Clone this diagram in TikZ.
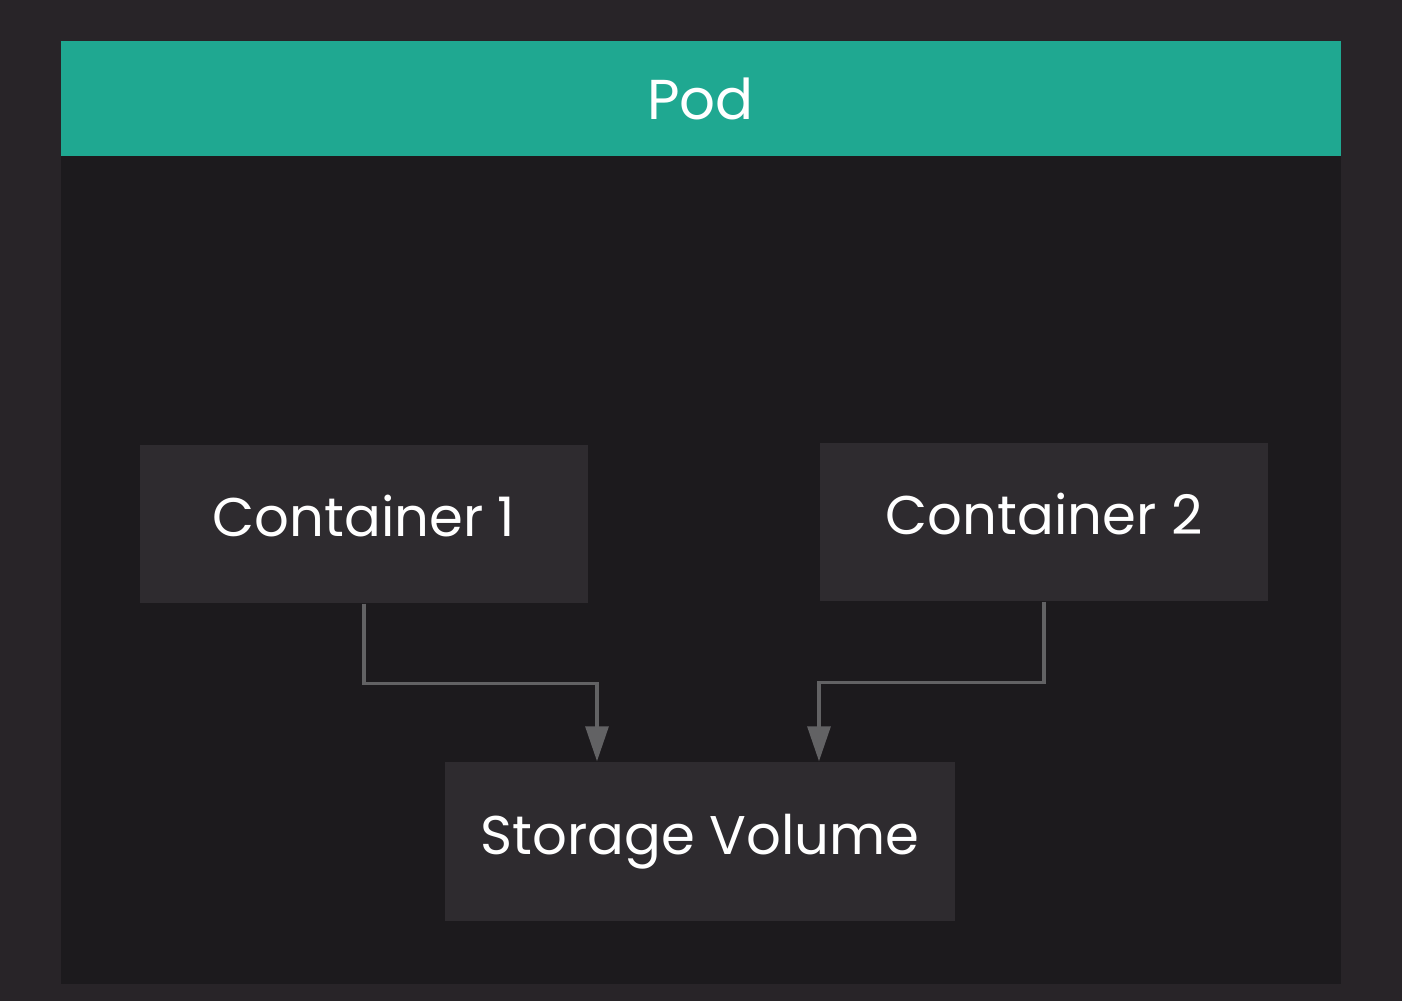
\documentclass[tikz,border=0pt]{standalone}
\usepackage{fontspec}
\setmainfont{Poppins}
\usetikzlibrary{arrows.meta,positioning,calc}
\definecolor{bgc}{RGB}{40,36,40}
\definecolor{podc}{RGB}{28,26,29}
\definecolor{hdc}{RGB}{31,168,145}
\definecolor{boxc}{RGB}{46,43,47}
\definecolor{arrc}{RGB}{98,98,100}
\tikzset{
  cbox/.style={rectangle,fill=boxc,draw=none,
    minimum width=#1,minimum height=1.58cm,inner sep=0pt,
    text height=0.30cm,text depth=0.04cm,
    text=white,font=\fontsize{15.5}{19}\selectfont},
  cbox/.default=4.48cm,
  arr/.style={-{Triangle[length=0.35cm,width=0.23cm]},line width=0.9pt,color=arrc},
}
\begin{document}
\begin{tikzpicture}
  \useasboundingbox (0,0) rectangle (14.02,10.01);
  \fill[bgc] (0,0) rectangle (14.02,10.01);

  % Pod frame and header
  \node[rectangle,fill=podc,minimum width=12.8cm,minimum height=9.43cm,
    inner sep=0pt,anchor=south west] (pod) at (0.60,0.16) {};
  \node[rectangle,fill=hdc,minimum width=12.8cm,minimum height=1.15cm,
    inner sep=0pt,anchor=north,text=white,text height=0.45cm,text depth=0.04cm,
    font=\fontsize{16}{19}\selectfont] (hd) at (pod.north) {Pod};

  % Containers and volume
  \node[cbox] (c1) at (3.64,4.77) {Container 1};
  \node[cbox] (c2) at (10.44,4.79) {Container 2};
  \node[cbox=5.10cm,minimum height=1.59cm] (sv) at (7.00,1.595) {Storage Volume};

  \draw[arr] (c1.south)--++(0,-0.8)-|([xshift=-1.03cm]sv.north);
  \draw[arr] (c2.south)--++(0,-0.81)-|([xshift=1.19cm]sv.north);
\end{tikzpicture}
\end{document}
